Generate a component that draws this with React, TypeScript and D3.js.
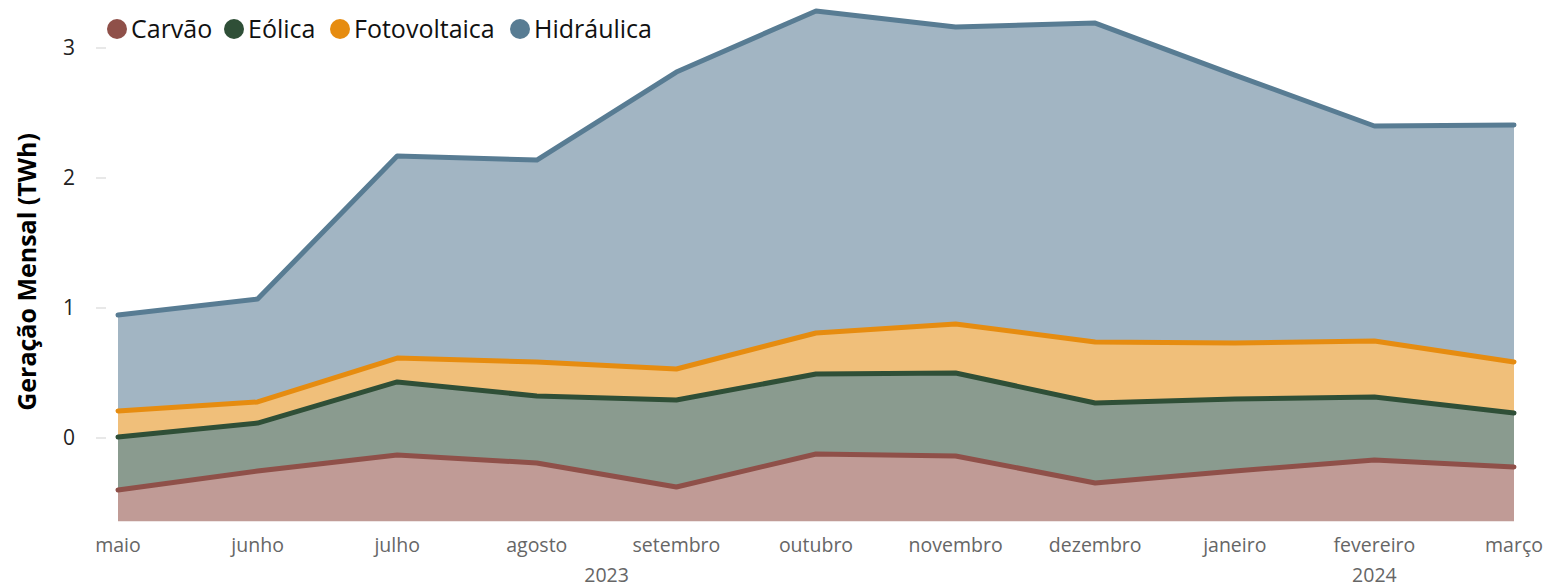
import { useMemo } from "react";
import * as d3 from "d3";

const months = ["maio", "junho", "julho", "agosto", "setembro", "outubro", "novembro", "dezembro", "janeiro", "fevereiro", "março"];
const years = [
  { label: "2023", from: "maio", to: "dezembro" },
  { label: "2024", from: "janeiro", to: "março" },
];
const seriesNames = ["Carvão", "Eólica", "Fotovoltaica", "Hidráulica"];
const carvao = [0.24, 0.386, 0.509, 0.448, 0.263, 0.517, 0.502, 0.294, 0.386, 0.471, 0.417];
const eolica = [0.408, 0.369, 0.562, 0.515, 0.669, 0.615, 0.638, 0.615, 0.554, 0.484, 0.415];
const fotovoltaica = [0.2, 0.162, 0.184, 0.262, 0.239, 0.316, 0.377, 0.469, 0.431, 0.431, 0.393];
const hidraulica = [0.738, 0.792, 1.554, 1.553, 2.284, 2.477, 2.285, 2.454, 2.061, 1.654, 1.823];
const yTicks = [0, 1, 2, 3];
const BASE = -0.64; // the stack starts at the bottom of the plot

const lineColors = ["#8f5049", "#2f4f37", "#e68c10", "#587c93"];
const fillColors = ["#c09b96", "#8a9b8f", "#f0bf7a", "#a2b5c3"];

const W = 1561;
const H = 588;
const font = "'Open Sans', 'Noto Sans', sans-serif";

export default function App() {
  const x = d3.scalePoint<string>().domain(months).range([118, 1514]);
  const y = d3.scaleLinear().domain([BASE, 3.3]).range([521.2, 9]);

  const stacked = useMemo(() => {
    const rows = months.map((m, i) => ({
      month: m,
      "Carvão": carvao[i],
      "Eólica": eolica[i],
      Fotovoltaica: fotovoltaica[i],
      "Hidráulica": hidraulica[i],
    }));
    return d3
      .stack<any>()
      .keys(seriesNames)
      .offset((series, order) => {
        d3.stackOffsetNone(series, order);
        series.forEach((s) => s.forEach((p) => { p[0] += BASE; p[1] += BASE; }));
      })(rows);
  }, []);

  const area = d3
    .area<any>()
    .x((d) => x(d.data.month)!)
    .y0((d) => y(d[0]))
    .y1((d) => y(d[1]));
  const line = d3
    .line<any>()
    .x((d) => x(d.data.month)!)
    .y((d) => y(d[1]));

  // legend dot centres
  const legendX = [117, 234, 340, 520];

  return (
    <svg width={W} height={H} style={{ position: "absolute", left: 0, top: 0, fontFamily: font }}>
      {/* y ticks */}
      {yTicks.map((t) => (
        <g key={t}>
          <line x1={96} x2={106} y1={y(t)} y2={y(t)} stroke="#e8e8e8" strokeWidth={2} />
          <text x={75} y={y(t)} dy="0.35em" textAnchor="end" fontSize={21} fill="#222">{t}</text>
        </g>
      ))}
      {/* areas */}
      {stacked.map((s, i) => (
        <path key={"a" + i} d={area(s)!} fill={fillColors[i]} />
      ))}
      {stacked.map((s, i) => (
        <path key={"l" + i} d={line(s)!} fill="none" stroke={lineColors[i]} strokeWidth={5} strokeLinejoin="round" strokeLinecap="round" />
      ))}
      {/* x axis */}
      {months.map((m) => (
        <text key={m} x={x(m)} y={552} textAnchor="middle" fontSize={19.5} fill="#666">{m}</text>
      ))}
      {years.map((yr) => (
        <text key={yr.label} x={(x(yr.from)! + x(yr.to)!) / 2} y={582} textAnchor="middle" fontSize={19.5} fill="#666">{yr.label}</text>
      ))}
      {/* y title */}
      <text transform="translate(36,272) rotate(-90)" textAnchor="middle" fontSize={25} fontWeight="bold" fill="#000">
        Geração Mensal (TWh)
      </text>
      {/* legend */}
      {seriesNames.map((n, i) => (
        <g key={n}>
          <circle cx={legendX[i]} cy={29} r={10} fill={lineColors[i]} />
          <text x={legendX[i] + 14} y={29} dy="0.35em" fontSize={25} fill="#111">{n}</text>
        </g>
      ))}
    </svg>
  );
}
